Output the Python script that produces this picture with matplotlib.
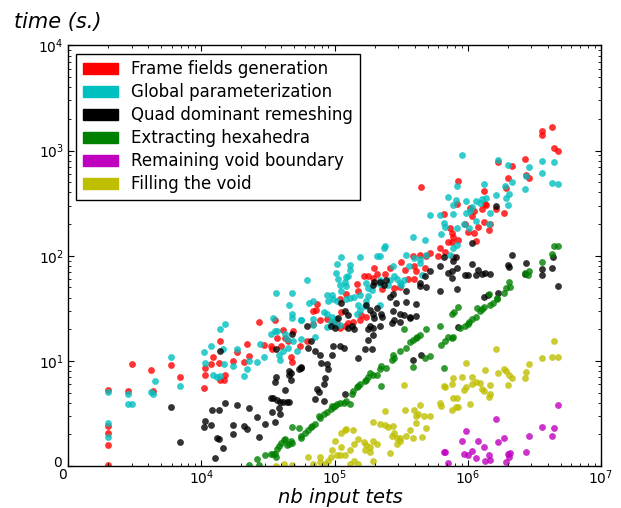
import numpy as np
import matplotlib
matplotlib.use('Agg')
import matplotlib.pyplot as plt
import matplotlib.patches as mpatches
from matplotlib.ticker import LogLocator, FuncFormatter, NullFormatter

# values, kept as log10(nb input tets) and log10(time in s.)
frame_n = [3.30, 3.30, 3.30, 3.30, 3.30, 3.45, 3.48, 3.62, 3.64, 3.77, 3.84,
           4.02, 4.03, 4.03, 4.07, 4.09, 4.13, 4.14, 4.14, 4.17, 4.18, 4.24, 4.27, 4.32, 4.34, 4.36,
           4.43, 4.47, 4.52, 4.53, 4.55, 4.57, 4.60, 4.61, 4.63, 4.65, 4.67, 4.68, 4.69, 4.74, 4.79,
           5.30, 5.22, 5.25, 5.29, 5.32, 5.38, 5.42, 5.50, 5.53, 5.55, 5.17, 5.18, 5.09, 5.04, 4.87,
           4.86, 4.84, 4.89, 4.84, 4.94, 4.99, 5.02, 5.04, 5.08, 5.10, 5.14, 5.19, 5.20, 5.24, 5.36,
           5.45, 5.49, 5.05,
           6.56, 6.56, 6.63, 6.65, 6.68, 6.43, 6.23, 6.33, 6.30, 6.44, 6.46, 5.93, 5.65, 6.12, 6.29,
           5.92, 6.02, 6.05, 6.03, 6.11, 6.14, 6.13, 6.21, 5.82, 6.27, 6.12, 6.17, 6.16, 6.08, 5.98,
           5.87, 5.88, 5.89, 6.00, 6.05, 5.93, 5.85, 5.88, 6.06, 5.79, 5.83, 5.72, 5.64, 5.69, 5.78,
           5.59, 5.60, 5.61, 5.60, 5.68, 5.89]
frame_t = [0.72, 0.38, 0.31, 0.20, 0.01, 0.71, 0.97, 0.91, 0.71, 0.96, 0.85,
           0.74, 0.93, 0.87, 0.97, 1.04, 0.98, 1.19, 0.82, 0.82, 0.87, 1.00, 1.08, 0.99, 1.16, 1.05,
           1.37, 1.15, 1.14, 1.11, 1.39, 1.22, 1.14, 1.29, 1.22, 1.19, 1.04, 0.99, 1.28, 1.14, 1.19,
           1.88, 1.81, 1.81, 1.79, 1.83, 1.83, 1.88, 1.94, 1.86, 1.78, 1.73, 1.66, 1.64, 1.59, 1.54,
           1.48, 1.47, 1.39, 1.35, 1.40, 1.37, 1.36, 1.31, 1.33, 1.36, 1.37, 1.39, 1.44, 1.42, 1.68,
           1.69, 1.70, 1.46,
           3.19, 3.15, 3.22, 3.02, 3.00, 2.92, 2.89, 2.85, 2.74, 2.77, 2.74, 2.71, 2.65, 2.62, 2.64,
           2.49, 2.45, 2.43, 2.38, 2.44, 2.48, 2.49, 2.44, 2.40, 2.41, 2.32, 2.30, 2.24, 2.27, 2.30,
           2.26, 2.22, 2.18, 2.23, 2.22, 2.15, 2.13, 2.13, 2.14, 2.07, 2.04, 2.03, 2.01, 2.00, 2.00,
           2.00, 1.90, 1.85, 1.78, 1.88, 1.99]

param_n = [3.30, 3.30, 3.30, 3.45, 3.45, 3.48, 3.62, 3.64, 3.65, 3.77, 3.84, 4.02, 4.03, 4.07,
           4.09, 4.12, 4.14, 4.14, 4.18, 4.16, 4.17, 4.24, 4.27, 4.32, 4.34, 4.36, 4.42, 4.44, 4.47,
           4.52, 4.54, 4.56, 4.55, 4.57, 4.58, 4.59, 4.61, 4.63, 4.64, 4.65, 4.66, 4.68, 4.68, 4.68,
           4.69, 4.72, 4.75, 4.85, 4.75,
           5.38, 5.37, 5.32, 5.34, 5.19, 5.05, 5.02, 5.01, 5.12, 5.12, 5.10, 5.09, 5.08, 5.03, 5.04,
           5.09, 5.05, 4.79, 5.24, 5.25, 5.28, 5.25, 5.24, 5.34, 5.34, 5.54, 5.56, 5.44, 5.45, 5.47,
           5.52, 5.50, 5.49, 5.42, 5.40, 5.19, 5.15, 5.12, 5.09, 4.94, 4.98, 4.99, 5.02, 4.95, 4.81,
           4.84, 4.75, 4.84, 4.84, 4.92, 4.94, 4.98, 5.01, 4.97, 5.00, 5.04, 4.94, 5.23, 5.18, 5.17,
           5.19, 5.34,
           5.96, 6.23, 6.30, 6.46, 6.56, 6.65, 6.56, 6.44, 6.63, 6.68, 6.43, 5.92, 6.12, 6.33, 6.28,
           6.31, 6.29, 6.21, 5.85, 5.91, 5.99, 6.06, 6.09, 6.14, 6.11, 5.89, 6.30, 6.03, 6.02, 5.99,
           6.17, 5.72, 5.79, 5.89, 6.06, 5.97, 5.82, 5.83, 6.16, 6.01, 5.92, 5.80, 5.59, 5.68, 5.92,
           5.89, 5.87, 5.69, 5.60, 5.64, 5.64, 5.66]
param_t = [0.70, 0.41, 0.28, 0.68, 0.59, 0.59, 0.70, 0.68, 0.81, 1.04, 0.76, 1.08, 0.98, 1.14,
           0.87, 0.85, 0.86, 1.30, 1.35, 1.11, 0.97, 0.95, 1.11, 0.86, 0.92, 1.00, 0.99, 1.16, 1.04,
           1.26, 1.41, 1.65, 1.28, 1.28, 1.06, 1.01, 1.09, 1.26, 1.21, 1.12, 1.53, 1.65, 1.45, 1.41,
           1.19, 1.09, 1.39, 1.23, 1.21,
           2.09, 2.07, 2.00, 2.00, 1.99, 1.99, 1.92, 1.84, 1.91, 1.86, 1.81, 1.80, 1.75, 1.78, 1.72,
           1.71, 1.66, 1.77, 1.74, 1.69, 1.67, 1.62, 1.57, 1.77, 1.73, 2.01, 1.90, 1.90, 1.81, 1.78,
           1.77, 1.72, 1.74, 1.77, 1.72, 1.63, 1.61, 1.60, 1.59, 1.63, 1.63, 1.59, 1.57, 1.57, 1.55,
           1.57, 1.39, 1.40, 1.34, 1.46, 1.45, 1.42, 1.40, 1.37, 1.34, 1.34, 1.32, 1.52, 1.53, 1.45,
           1.48, 1.53,
           2.96, 2.91, 2.86, 2.84, 2.90, 2.89, 2.79, 2.76, 2.69, 2.68, 2.63, 2.66, 2.68, 2.70, 2.66,
           2.59, 2.55, 2.58, 2.56, 2.53, 2.52, 2.52, 2.50, 2.55, 2.54, 2.48, 2.48, 2.46, 2.43, 2.41,
           2.41, 2.39, 2.39, 2.40, 2.33, 2.30, 2.31, 2.27, 2.30, 2.26, 2.26, 2.21, 2.18, 2.15, 2.10,
           2.07, 2.01, 2.01, 1.98, 1.97, 1.93, 1.82]

quad_n = [3.77, 3.84, 4.02, 4.03, 4.07, 4.08, 4.13, 4.13, 4.12, 4.10, 4.16, 4.18, 4.24, 4.24,
          4.27, 4.32, 4.34, 4.36, 4.42, 4.43, 4.48, 4.52, 4.54, 4.53, 4.55, 4.56, 4.56, 4.55, 4.57,
          4.59, 4.61, 4.64, 4.66, 4.58, 4.59, 4.63, 4.66, 4.66, 4.67, 4.68, 4.67, 4.73, 4.75, 4.14,
          5.29, 5.30, 5.34, 5.37, 5.39, 5.44, 5.42, 5.54, 5.54, 5.46, 5.44, 5.49, 5.52, 5.45, 5.57,
          5.43, 5.49, 5.05, 5.08, 5.10, 5.03, 5.13, 5.10, 5.15, 5.24, 5.27, 5.29, 5.32, 5.35, 5.30,
          5.27, 5.25, 5.29, 5.34, 5.36, 4.79, 4.97, 5.00,
          4.80, 4.82, 4.85, 4.89, 4.90, 4.94, 4.95, 4.93, 4.92, 5.04, 5.07, 4.99, 4.98, 4.87, 4.88,
          4.85, 4.92, 5.08, 5.23, 5.25, 5.28, 5.29, 5.18, 4.75,
          5.61, 5.61, 5.57, 5.93, 5.65, 5.59,
          6.21, 6.03, 6.33, 5.82, 5.91, 5.89, 6.03, 6.30, 6.31, 6.44, 6.63, 6.56, 6.43, 6.64, 5.79,
          5.72, 5.68, 5.85, 5.88, 5.92, 5.98, 6.00, 6.06, 6.08, 6.11, 6.13, 6.17, 5.88, 5.64, 5.64,
          5.69, 5.79, 5.92, 6.23, 6.15, 6.12, 6.68, 6.56]
quad_t = [0.56, 0.23, 0.37, 0.43, 0.39, 0.53, 0.53, 0.26, 0.27, 0.08, 0.17, 0.60, 0.39, 0.30,
          0.58, 0.38, 0.35, 0.55, 0.47, 0.28, 0.40, 0.65, 0.65, 0.51, 0.42, 1.11, 0.85, 0.80, 0.63,
          0.61, 0.61, 0.61, 0.61, 0.55, 0.49, 0.72, 0.90, 0.87, 0.88, 1.26, 0.82, 0.92, 0.94, 1.09,
          1.72, 1.75, 1.75, 1.72, 1.77, 1.64, 1.61, 1.66, 1.56, 1.55, 1.47, 1.45, 1.44, 1.39, 1.42,
          1.36, 1.37, 1.55, 1.47, 1.44, 1.41, 1.33, 1.31, 1.30, 1.53, 1.48, 1.45, 1.50, 1.45, 1.41,
          1.33, 1.30, 1.31, 1.33, 1.42, 1.33, 1.33, 1.31,
          1.12, 1.19, 1.09, 1.06, 0.98, 0.97, 0.92, 0.84, 0.78, 1.14, 1.12, 1.14, 1.06, 0.73, 0.70,
          0.64, 0.62, 0.68, 1.11, 1.20, 1.11, 1.25, 1.03, 0.93,
          1.54, 1.43, 1.41, 1.32, 1.06, 1.01,
          2.47, 2.12, 2.01, 1.99, 1.99, 1.95, 1.92, 1.91, 1.89, 1.93, 1.88, 1.87, 1.83, 1.99, 1.90,
          1.85, 1.81, 1.84, 1.85, 1.88, 1.82, 1.82, 1.82, 1.86, 1.83, 1.84, 1.83, 1.79, 1.74, 1.71,
          1.70, 1.66, 1.68, 1.65, 1.63, 1.61, 1.71, 1.82]

hexa_n = [4.36, 4.43, 4.42, 4.48, 4.52, 4.54, 4.55, 4.56, 4.57, 4.58, 4.60, 4.62, 4.63, 4.64,
          4.66, 4.67, 4.68, 4.68, 4.73, 4.75,
          5.54, 5.49, 5.44, 5.43, 5.45, 5.39, 5.34, 5.35, 5.32, 5.29, 5.25, 5.27, 5.24, 5.23, 5.35,
          5.19, 5.17, 5.18, 5.14, 5.13, 5.12, 5.09, 5.07, 5.04, 5.02, 5.00, 4.99, 4.98, 4.97, 4.94,
          4.92, 4.89, 4.88, 4.85, 4.83, 4.82, 4.80, 4.78, 4.75, 5.52,
          5.88, 5.90, 5.93, 5.79, 5.69, 5.64, 5.62, 5.61, 5.57, 5.59, 5.85, 5.88, 5.89, 5.83, 5.80,
          5.94, 5.98, 6.00, 6.01, 6.03, 6.06, 6.07, 6.09, 6.11, 6.12, 6.17, 6.19, 6.22, 5.72, 5.68,
          5.59, 5.82,
          6.65, 6.68, 6.63, 6.56, 6.43, 6.46, 6.45, 6.31, 6.29, 6.32, 6.27, 6.16, 6.22]
hexa_t = [0.01, 0.01, 0.07, 0.10, 0.11, 0.11, 0.11, 0.09, 0.16, 0.19, 0.22, 0.25, 0.26, 0.20,
          0.21, 0.24, 0.22, 0.37, 0.36, 0.27,
          1.12, 1.09, 1.06, 1.01, 1.03, 0.93, 0.92, 0.95, 0.87, 0.87, 0.85, 0.88, 0.82, 0.81, 0.76,
          0.78, 0.75, 0.76, 0.71, 0.68, 0.59, 0.62, 0.60, 0.60, 0.59, 0.57, 0.56, 0.57, 0.54, 0.51,
          0.49, 0.46, 0.48, 0.40, 0.38, 0.37, 0.34, 0.31, 0.29, 1.30,
          1.45, 1.46, 1.51, 1.33, 1.30, 1.25, 1.23, 1.22, 1.18, 1.20, 1.23, 1.22, 1.23, 1.19, 1.15,
          1.31, 1.33, 1.35, 1.37, 1.40, 1.42, 1.50, 1.47, 1.49, 1.51, 1.53, 1.55, 1.59, 1.05, 1.03,
          0.94, 0.93,
          2.09, 2.09, 2.02, 1.94, 1.84, 1.85, 1.82, 1.75, 1.69, 1.70, 1.65, 1.64, 1.60]

void_n = [6.68, 6.21, 6.56, 6.65, 6.63, 6.46, 6.27, 6.23, 5.99, 5.96, 6.08, 6.12, 6.03, 5.82,
          5.83, 5.97, 6.00, 6.06, 6.16, 6.17, 6.13, 6.30, 6.32, 6.31, 6.29, 6.44, 5.85]
void_t = [0.58, 0.45, 0.37, 0.36, 0.29, 0.29, 0.27, 0.23, 0.33, 0.24, 0.24, 0.18, 0.14, 0.13,
          0.13, 0.11, 0.10, 0.08, 0.10, 0.06, 0.05, 0.11, 0.12, 0.09, 0.04, 0.13, 0.03]

fill_n = [4.62, 4.68, 4.56,
          5.52, 5.38, 5.53, 5.29, 5.34, 5.38, 5.44, 5.43, 5.47, 5.49, 5.47, 5.05, 5.09, 5.14, 5.18,
          5.22, 5.24, 5.23, 5.27, 5.29, 5.32, 5.12, 5.08, 5.04, 5.02, 5.00, 4.97, 4.80, 4.89, 4.93,
          4.95, 5.15, 5.29, 5.05, 5.08, 5.15, 5.27, 5.18, 5.12, 5.40, 5.45, 5.49, 5.54, 5.42, 4.84,
          4.98, 4.89,
          6.65, 6.21, 6.56, 6.63, 6.68, 6.46, 5.99, 6.13, 6.27, 6.29, 6.31, 6.33, 6.23, 6.44, 6.43,
          5.89, 5.96, 6.03, 5.88, 5.82, 5.83, 5.97, 5.99, 6.03, 6.06, 6.09, 6.12, 6.11, 6.17, 6.30,
          5.89, 5.92, 5.91, 5.93, 5.88, 6.17, 6.16, 6.02, 5.79, 5.80, 5.64, 5.60, 5.61, 5.61, 5.63,
          5.67, 5.72, 5.57, 5.59, 5.66, 5.69]
fill_t = [0.02, 0.01, 0.00,
          0.77, 0.52, 0.53, 0.42, 0.40, 0.39, 0.38, 0.29, 0.27, 0.24, 0.21, 0.31, 0.35, 0.34, 0.26,
          0.23, 0.20, 0.15, 0.13, 0.24, 0.21, 0.15, 0.10, 0.10, 0.10, 0.24, 0.09, 0.09, 0.04, 0.02,
          0.05, 0.05, 0.05, 0.18, 0.34, 0.21, 0.18, 0.02, 0.02, 0.37, 0.31, 0.27, 0.29, 0.12, 0.02,
          0.15, 0.09,
          1.19, 1.11, 1.03, 1.04, 1.04, 0.97, 0.98, 0.91, 0.92, 0.90, 0.87, 0.84, 0.88, 0.89, 0.84,
          0.84, 0.85, 0.85, 0.78, 0.76, 0.75, 0.72, 0.75, 0.78, 0.80, 0.79, 0.71, 0.73, 0.77, 0.77,
          0.65, 0.65, 0.56, 0.56, 0.53, 0.68, 0.66, 0.59, 0.60, 0.57, 0.58, 0.53, 0.48, 0.41, 0.49,
          0.48, 0.48, 0.34, 0.27, 0.28, 0.36]

labels = ['Frame fields generation', 'Global parameterization', 'Quad dominant remeshing',
          'Extracting hexahedra', 'Remaining void boundary', 'Filling the void']
colors = ['r', 'c', 'k', 'g', 'm', 'y']
xs = [frame_n, param_n, quad_n, hexa_n, void_n, fill_n]
ys = [frame_t, param_t, quad_t, hexa_t, void_t, fill_t]

fig = plt.figure(figsize=(6.21, 5.08), dpi=100)
ax = fig.add_axes([0.1095, 0.0827, 0.8583, 0.8278])

for n, t, c in zip(xs, ys, colors):
    ax.scatter(10 ** np.array(n), 10 ** np.array(t), s=24, c=c, alpha=0.8, linewidths=0)

ax.set_xscale('log')
ax.set_yscale('log')
ax.set_xlim(1e3, 1e7)
ax.set_ylim(1, 1e4)

def make_fmt(lowest):
    # lowest decade gets a plain "0", drawn separately below
    def f(v, pos):
        e = int(round(np.log10(v)))
        if e == lowest:
            return ''
        return r'$10^{%d}$' % e
    return f

for axis, low in ((ax.xaxis, 3), (ax.yaxis, 0)):
    axis.set_major_locator(LogLocator(base=10))
    axis.set_minor_locator(LogLocator(base=10, subs=np.arange(2, 10)))
    axis.set_major_formatter(FuncFormatter(make_fmt(low)))
    axis.set_minor_formatter(NullFormatter())

ax.tick_params(which='both', direction='in', top=True, right=True, labelsize=10, pad=3)
ax.tick_params(axis='x', which='major', pad=2)
ax.tick_params(which='major', length=4.5, width=0.8)
ax.tick_params(which='minor', length=2.2, width=0.6)
for sp in ax.spines.values():
    sp.set_linewidth(1.0)

ax.annotate('0', xy=(0, 0), xycoords='axes fraction', xytext=(-4.3, -1.5),
            textcoords='offset points', ha='center', va='top', fontsize=10)
ax.annotate('0', xy=(0, 0), xycoords='axes fraction', xytext=(-4.3, 2.5),
            textcoords='offset points', ha='right', va='center', fontsize=10)

# axis titles, placed as in the original figure
fig.text(340 / 621, 1 - 503 / 508, 'nb input tets', fontsize=14, style='italic',
         ha='center', va='baseline')
fig.text(14 / 621, 1 - 28 / 508, 'time (s.)', fontsize=15, style='italic', va='baseline')

handles = [mpatches.Patch(color=c, label=l) for c, l in zip(colors, labels)]
leg = ax.legend(handles=handles, loc='upper left', fontsize=12, fancybox=False,
                borderaxespad=0.5, borderpad=0.4, handlelength=2.1, handleheight=0.7,
                handletextpad=0.8, labelspacing=0.3, framealpha=1)
leg.get_frame().set_edgecolor('k')
leg.get_frame().set_linewidth(1.0)

plt.savefig('out.png', dpi=100)
